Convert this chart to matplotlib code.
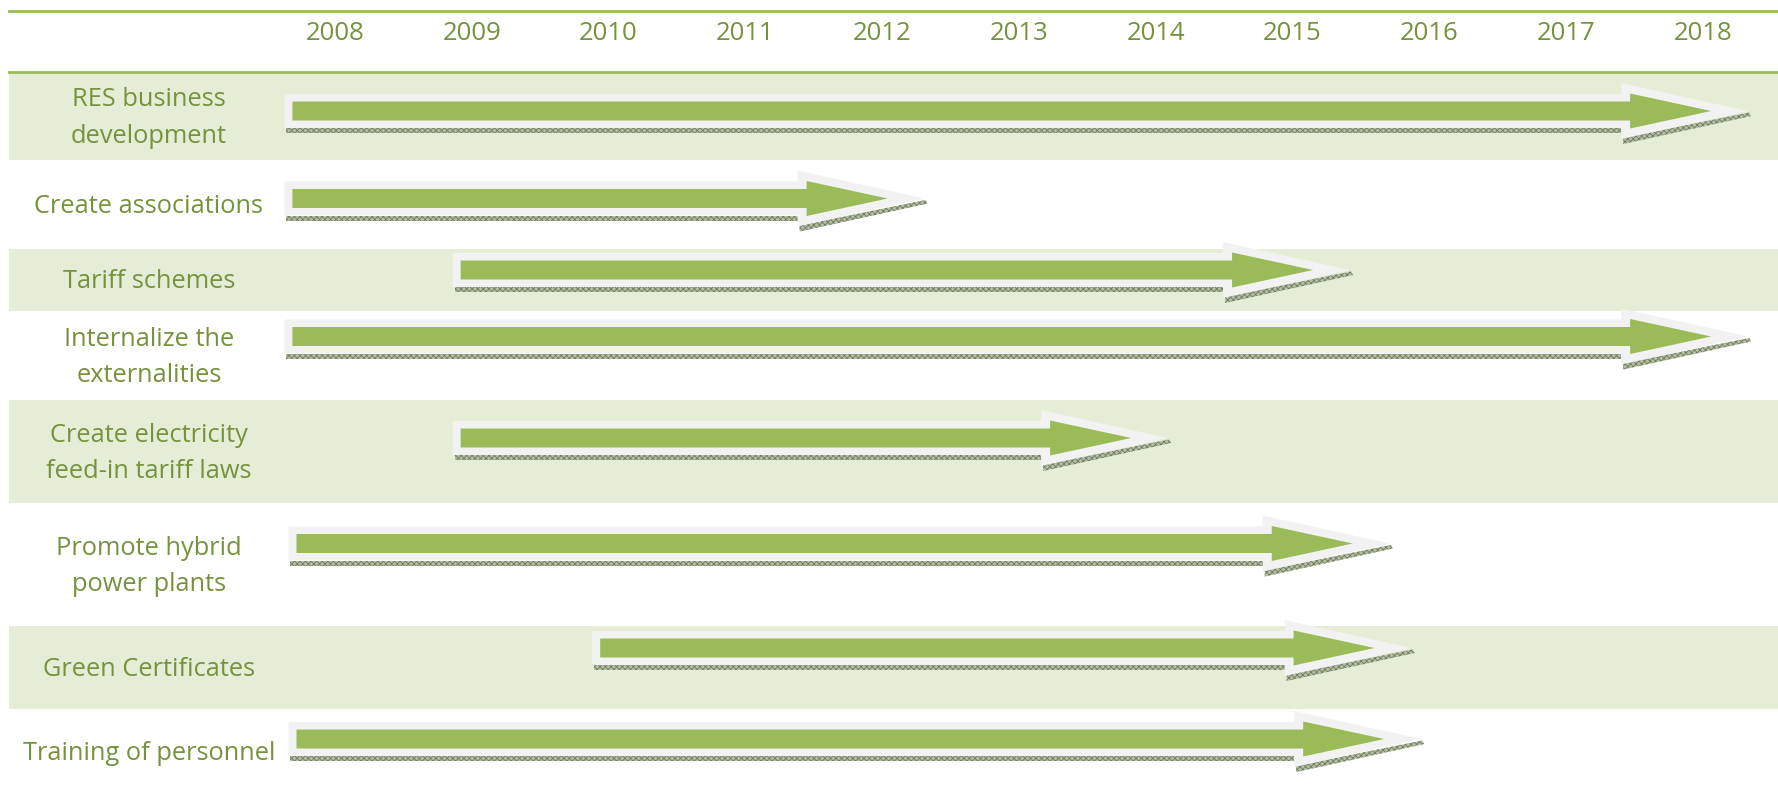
import matplotlib
matplotlib.use("Agg")
import matplotlib.pyplot as plt
from matplotlib.patches import Polygon, Rectangle
from matplotlib.transforms import blended_transform_factory

# ---------------- data ----------------
categories = [
    "RES business\ndevelopment",
    "Create associations",
    "Tariff schemes",
    "Internalize the\nexternalities",
    "Create electricity\nfeed-in tariff laws",
    "Promote hybrid\npower plants",
    "Green Certificates",
    "Training of personnel",
]
arrow_start = [2007.63, 2007.63, 2008.86, 2007.63, 2008.86, 2007.66, 2009.88, 2007.66]
arrow_end = [2018.33, 2012.31, 2015.42, 2018.33, 2014.09, 2015.71, 2015.87, 2015.94]
years = list(range(2008, 2019))

# ---------------- layout / style ----------------
W, H = 1778, 793
row_edges = [72, 160, 249, 311, 400, 503, 626, 709, 793]   # pixel rows
arrow_offset = [39, 38.5, 21, 25.5, 38, 40.5, 22, 30]        # arrow centre below band top
shaded = [True, False, True, False, True, False, True, False]
x_left_px = 9
year0_px, px_per_year = 335, 136.8
label_x_px = 149

GREEN = "#9bbb59"
TEXT = "#76923c"
BAND = "#e5edd6"
GRAY = "#f2f2f2"
SHADOW_FACE = "#b4bca6"
SHADOW_EDGE = "#6f7d5b"

plt.rcParams["hatch.linewidth"] = 0.6
FONT = ["Open Sans", "DejaVu Sans"]

fig = plt.figure(figsize=(W / 100, H / 100), dpi=100)
ax = fig.add_axes([0, 0, 1, 1])
xl = years[0] - year0_px / px_per_year
xr = years[0] + (W - year0_px) / px_per_year
ax.set_xlim(xl, xr)
ax.set_ylim(H, 0)
ax.axis("off")
ppy = W / (xr - xl)

# bands
for i in range(len(categories)):
    if shaded[i]:
        ax.axhspan(row_edges[i], row_edges[i + 1], xmin=x_left_px / W, xmax=1,
                   color=BAND, lw=0, zorder=0)

# header lines
for yl in (10.5, 72):
    ax.axhline(yl, xmin=x_left_px / W, xmax=1, color=GREEN, lw=2.0, zorder=2)

# year labels
for yr in years:
    ax.text(yr, 34, str(yr), ha="center", va="center", color=TEXT,
            fontsize=18.5, family=FONT)

# row labels
trans = blended_transform_factory(fig.transFigure, ax.transData)
for i, lab in enumerate(categories):
    yc = (row_edges[i] + row_edges[i + 1]) / 2 + 2
    ax.text(label_x_px / W, yc, lab, transform=trans, ha="center", va="center",
            color=TEXT, fontsize=18.3, family=FONT, linespacing=1.6)

# arrows
for i in range(len(categories)):
    s, t = arrow_start[i], arrow_end[i]
    c = row_edges[i] + arrow_offset[i]
    hb = t - 127 / ppy
    # shadow (hatched strip along the bottom edge)
    ax.add_patch(Rectangle((s + 2 / ppy, c + 17), hb - s - 2 / ppy, 5,
                           facecolor=SHADOW_FACE, edgecolor=SHADOW_EDGE,
                           hatch="xxxxxx", lw=0, zorder=3))
    ax.add_patch(Polygon([(hb + 2 / ppy, c + 27), (t + 1 / ppy, c + 1.5),
                          (t + 3 / ppy, c + 5), (hb + 2 / ppy, c + 33)],
                         closed=True, facecolor=SHADOW_FACE, edgecolor=SHADOW_EDGE,
                         hatch="xxxxxx", lw=0, zorder=3))
    # outer light arrow
    ax.add_patch(Polygon([(s, c - 17), (hb, c - 17), (hb, c - 28), (t, c),
                          (hb, c + 28), (hb, c + 17), (s, c + 17)],
                         closed=True, facecolor=GRAY, edgecolor="none", zorder=4))
    # inner green arrow
    gs = s + 8 / ppy
    gt = t - 37 / ppy
    ghb = hb + 9 / ppy
    ax.add_patch(Polygon([(gs, c - 9.5), (ghb, c - 9.5), (ghb, c - 17.5), (gt, c),
                          (ghb, c + 17.5), (ghb, c + 9.5), (gs, c + 9.5)],
                         closed=True, facecolor=GREEN, edgecolor="none", zorder=5))

fig.savefig("out.png", dpi=100, facecolor="white")
